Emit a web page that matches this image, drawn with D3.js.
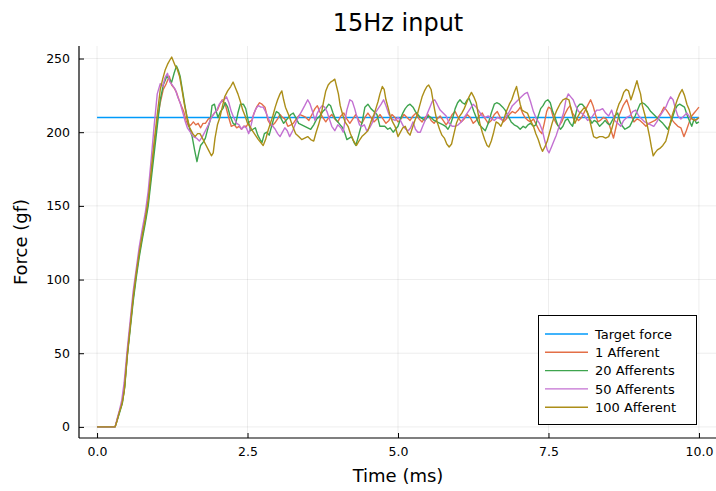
<!DOCTYPE html>
<html><head><meta charset="utf-8">
<script src="https://cdn.jsdelivr.net/npm/d3@7/dist/d3.min.js"></script>
<style>body{margin:0;background:#fff;font-family:"DejaVu Sans",sans-serif;}</style>
</head><body><svg id="c" width="716" height="491"></svg>
<script>
const title = "15Hz input";
const xLabel = "Time (ms)";
const yLabel = "Force (gf)";
const xTicks = [0, 2.5, 5, 7.5, 10];
const xTickLabels = ["0.0", "2.5", "5.0", "7.5", "10.0"];
const yTicks = [0, 50, 100, 150, 200, 250];
const seriesNames = ["Target force", "1 Afferent", "20 Afferents", "50 Afferents", "100 Afferent"];
const seriesColors = ["#009AFA", "#E36F47", "#3EA44E", "#C371D2", "#AC8E18"];

const targetForce = [[0,210],[10,210]];
const afferent1 = [[0,0],[0.3,0],[0.33,4],[0.37,10],[0.42,17],[0.46,28],[0.5,48],[0.55,68],[0.6,87],[0.65,103],[0.7,117],[0.75,129],[0.8,140],[0.85,153],[0.9,172],[0.95,191],[1.0,208],[1.05,220],[1.1,229],[1.15,233],[1.2,238],[1.24,232],[1.28,230],[1.32,227],[1.36,222],[1.4,218],[1.44,214],[1.48,208],[1.52,204],[1.56,205],[1.6,207],[1.64,205],[1.68,206],[1.72,203],[1.76,206],[1.8,206],[1.85,209],[1.9,210],[1.95,213],[2.0,215],[2.04,219],[2.08,222],[2.13,219],[2.18,211],[2.23,204],[2.28,205],[2.32,203],[2.36,204],[2.4,202],[2.44,204],[2.48,204],[2.53,207],[2.57,208],[2.61,213],[2.65,217],[2.7,220],[2.74,219],[2.79,217],[2.84,208],[2.9,204],[2.95,206],[3.0,209],[3.04,212],[3.08,210],[3.12,209],[3.17,204],[3.22,205],[3.26,206],[3.31,209],[3.37,212],[3.42,211],[3.47,210],[3.52,208],[3.57,212],[3.62,216],[3.66,218],[3.7,214],[3.75,210],[3.8,207],[3.85,210],[3.9,212],[3.95,209],[4.0,207],[4.05,211],[4.1,213],[4.15,209],[4.2,206],[4.25,209],[4.3,212],[4.35,208],[4.4,206],[4.45,210],[4.5,213],[4.55,210],[4.6,207],[4.65,209],[4.7,212],[4.75,209],[4.8,206],[4.85,208],[4.9,212],[4.95,210],[5.0,207],[5.05,209],[5.1,212],[5.15,210],[5.2,208],[5.25,211],[5.3,213],[5.35,209],[5.4,207],[5.45,210],[5.5,212],[5.55,208],[5.6,206],[5.65,209],[5.7,211],[5.75,208],[5.8,205],[5.85,208],[5.9,212],[5.95,214],[6.0,210],[6.05,207],[6.1,209],[6.15,212],[6.2,210],[6.25,206],[6.3,208],[6.35,211],[6.4,213],[6.45,209],[6.5,206],[6.55,208],[6.6,212],[6.65,214],[6.7,210],[6.75,207],[6.8,209],[6.85,212],[6.9,214],[6.95,213],[7.0,215],[7.03,217],[7.07,213],[7.11,210],[7.16,208],[7.2,207],[7.25,209],[7.3,205],[7.35,201],[7.39,199],[7.43,206],[7.47,214],[7.5,217],[7.54,216],[7.58,210],[7.63,206],[7.67,204],[7.72,207],[7.77,212],[7.82,216],[7.86,218],[7.9,213],[7.95,210],[8.0,208],[8.05,210],[8.1,214],[8.15,218],[8.2,222],[8.24,218],[8.28,212],[8.32,207],[8.36,208],[8.41,210],[8.46,209],[8.51,205],[8.55,200],[8.58,196],[8.62,203],[8.66,210],[8.7,214],[8.74,218],[8.8,222],[8.84,217],[8.88,211],[8.92,207],[8.97,209],[9.02,208],[9.07,206],[9.12,204],[9.17,206],[9.22,207],[9.27,208],[9.32,210],[9.37,213],[9.42,217],[9.46,215],[9.51,212],[9.56,208],[9.6,206],[9.65,204],[9.7,203],[9.75,197],[9.79,201],[9.84,207],[9.88,211],[9.92,213],[9.96,215],[10.0,217]];
const afferent20 = [[0,0],[0.3,0],[0.33,4],[0.37,9],[0.42,16],[0.46,27],[0.5,47],[0.55,66],[0.6,85],[0.65,101],[0.7,115],[0.75,127],[0.8,138],[0.85,150],[0.9,168],[0.95,186],[1.0,204],[1.05,222],[1.1,232],[1.16,238],[1.2,236],[1.24,234],[1.28,240],[1.32,245],[1.35,242],[1.38,238],[1.42,228],[1.46,218],[1.5,209],[1.54,202],[1.58,197],[1.62,188],[1.66,180],[1.69,186],[1.72,191],[1.76,193],[1.8,196],[1.85,204],[1.88,208],[1.91,218],[1.95,219],[1.98,214],[2.01,210],[2.05,214],[2.09,216],[2.13,220],[2.17,217],[2.21,211],[2.26,206],[2.3,205],[2.34,213],[2.38,219],[2.43,219],[2.47,216],[2.51,208],[2.55,201],[2.59,202],[2.63,203],[2.67,198],[2.71,195],[2.74,193],[2.78,199],[2.82,200],[2.86,198],[2.9,204],[2.94,210],[2.98,214],[3.02,213],[3.06,209],[3.1,206],[3.14,208],[3.18,210],[3.22,212],[3.26,213],[3.3,210],[3.35,206],[3.4,205],[3.45,204],[3.5,203],[3.55,202],[3.6,205],[3.65,209],[3.7,211],[3.75,214],[3.8,216],[3.85,219],[3.88,218],[3.92,213],[3.96,209],[4.0,207],[4.04,205],[4.08,203],[4.12,199],[4.15,195],[4.19,196],[4.23,197],[4.27,193],[4.3,191],[4.34,197],[4.38,203],[4.41,208],[4.45,217],[4.5,219],[4.55,216],[4.6,214],[4.65,212],[4.7,204],[4.74,204],[4.78,204],[4.83,202],[4.87,203],[4.92,200],[4.96,202],[5.0,204],[5.04,209],[5.08,213],[5.12,216],[5.16,218],[5.2,219],[5.25,217],[5.29,214],[5.33,212],[5.37,210],[5.41,209],[5.45,208],[5.5,211],[5.55,210],[5.6,208],[5.65,207],[5.7,206],[5.75,205],[5.79,204],[5.83,202],[5.87,205],[5.91,210],[5.95,216],[5.99,220],[6.03,222],[6.07,220],[6.11,219],[6.15,222],[6.18,223],[6.22,219],[6.26,214],[6.3,210],[6.35,205],[6.4,203],[6.45,201],[6.5,206],[6.55,213],[6.6,219],[6.64,220],[6.69,219],[6.74,217],[6.78,215],[6.83,211],[6.88,207],[6.93,205],[6.98,204],[7.03,202],[7.08,204],[7.12,203],[7.16,205],[7.2,206],[7.25,204],[7.29,205],[7.33,211],[7.37,216],[7.41,218],[7.45,221],[7.49,222],[7.53,220],[7.57,214],[7.61,210],[7.65,205],[7.7,202],[7.74,204],[7.78,208],[7.82,209],[7.86,206],[7.9,204],[7.94,210],[7.98,217],[8.02,219],[8.06,219],[8.1,217],[8.14,214],[8.18,210],[8.22,206],[8.26,208],[8.3,207],[8.35,204],[8.4,206],[8.44,208],[8.48,206],[8.52,205],[8.56,208],[8.6,211],[8.65,213],[8.69,207],[8.73,204],[8.77,202],[8.81,203],[8.85,204],[8.9,208],[8.94,211],[8.98,215],[9.02,219],[9.06,220],[9.1,219],[9.15,217],[9.2,214],[9.25,212],[9.3,210],[9.35,208],[9.4,206],[9.44,204],[9.48,202],[9.52,205],[9.56,210],[9.6,215],[9.64,218],[9.68,219],[9.72,218],[9.76,217],[9.8,212],[9.84,208],[9.88,204],[9.92,209],[9.96,206],[10.0,207]];
const afferent50 = [[0,0],[0.3,0],[0.33,5],[0.37,11],[0.41,18],[0.45,30],[0.5,52],[0.55,72],[0.6,92],[0.65,107],[0.7,122],[0.75,134],[0.8,145],[0.85,160],[0.9,182],[0.95,205],[1.0,226],[1.05,233],[1.09,231],[1.13,237],[1.17,240],[1.21,234],[1.25,232],[1.3,229],[1.34,224],[1.38,220],[1.42,214],[1.46,208],[1.5,203],[1.55,200],[1.6,197],[1.65,196],[1.7,194],[1.75,197],[1.8,201],[1.85,205],[1.9,210],[1.95,213],[1.99,215],[2.03,219],[2.07,221],[2.11,222],[2.15,224],[2.19,220],[2.23,214],[2.27,210],[2.32,206],[2.36,205],[2.4,202],[2.44,204],[2.48,203],[2.52,199],[2.56,205],[2.6,212],[2.64,216],[2.68,218],[2.72,217],[2.76,217],[2.8,214],[2.84,210],[2.88,206],[2.92,204],[2.96,202],[3.0,199],[3.04,197],[3.08,200],[3.12,203],[3.16,201],[3.2,197],[3.25,201],[3.29,205],[3.33,209],[3.37,212],[3.41,215],[3.45,218],[3.5,222],[3.54,219],[3.58,214],[3.62,208],[3.66,213],[3.7,216],[3.74,218],[3.78,217],[3.82,214],[3.86,209],[3.9,204],[3.95,201],[4.0,205],[4.05,203],[4.09,200],[4.12,208],[4.15,215],[4.2,222],[4.24,221],[4.28,216],[4.32,210],[4.36,205],[4.4,204],[4.44,205],[4.48,201],[4.53,203],[4.58,207],[4.62,213],[4.67,216],[4.72,219],[4.76,222],[4.8,218],[4.85,212],[4.9,209],[4.95,208],[5.0,210],[5.04,208],[5.09,204],[5.13,202],[5.17,201],[5.21,203],[5.25,207],[5.29,202],[5.33,200],[5.37,200],[5.41,204],[5.45,208],[5.49,213],[5.53,217],[5.57,221],[5.61,222],[5.65,219],[5.7,215],[5.75,213],[5.8,211],[5.85,206],[5.9,204],[5.95,204],[6.0,205],[6.05,207],[6.1,210],[6.15,213],[6.2,216],[6.25,219],[6.3,217],[6.35,214],[6.4,211],[6.45,210],[6.5,211],[6.55,209],[6.6,208],[6.65,210],[6.7,209],[6.75,208],[6.8,211],[6.85,214],[6.9,218],[6.95,220],[7.0,222],[7.05,224],[7.1,226],[7.15,227],[7.2,221],[7.25,214],[7.3,209],[7.35,206],[7.4,201],[7.44,194],[7.48,188],[7.51,186],[7.55,190],[7.59,194],[7.63,198],[7.67,203],[7.71,208],[7.75,213],[7.79,222],[7.83,226],[7.87,224],[7.91,222],[7.95,218],[8.0,214],[8.05,213],[8.1,211],[8.15,208],[8.2,209],[8.25,212],[8.3,215],[8.35,215],[8.4,216],[8.45,213],[8.5,211],[8.55,215],[8.6,208],[8.65,206],[8.7,204],[8.75,208],[8.8,210],[8.85,211],[8.9,214],[8.95,215],[9.0,211],[9.05,209],[9.1,207],[9.15,206],[9.2,205],[9.25,204],[9.3,207],[9.35,211],[9.4,214],[9.45,217],[9.49,221],[9.53,224],[9.57,222],[9.61,216],[9.65,211],[9.7,209],[9.75,211],[9.8,213],[9.85,210],[9.9,209],[9.95,208],[10.0,210]];
const afferent100 = [[0,0],[0.3,0],[0.33,4],[0.37,10],[0.41,15],[0.45,24],[0.5,48],[0.55,68],[0.6,88],[0.65,104],[0.7,118],[0.75,130],[0.8,141],[0.85,154],[0.9,174],[0.95,194],[1.0,212],[1.05,229],[1.09,236],[1.13,242],[1.17,246],[1.21,249],[1.24,251],[1.27,248],[1.3,245],[1.33,243],[1.37,238],[1.41,229],[1.45,219],[1.49,211],[1.54,203],[1.59,199],[1.63,197],[1.67,199],[1.71,199],[1.75,196],[1.8,192],[1.85,188],[1.9,184],[1.93,186],[1.96,196],[2.0,205],[2.04,210],[2.08,217],[2.12,224],[2.17,228],[2.22,231],[2.26,234],[2.3,230],[2.34,226],[2.38,221],[2.42,215],[2.46,211],[2.5,206],[2.54,204],[2.58,201],[2.63,198],[2.68,195],[2.72,193],[2.76,191],[2.8,195],[2.84,201],[2.88,206],[2.92,211],[2.96,217],[3.0,222],[3.04,226],[3.07,228],[3.1,222],[3.13,217],[3.17,213],[3.2,210],[3.25,204],[3.3,199],[3.35,197],[3.4,195],[3.45,196],[3.5,197],[3.55,195],[3.6,194],[3.64,200],[3.68,205],[3.72,211],[3.76,220],[3.8,228],[3.84,232],[3.88,234],[3.92,235],[3.95,236],[3.98,231],[4.01,226],[4.04,218],[4.08,212],[4.12,207],[4.17,204],[4.21,199],[4.25,195],[4.28,193],[4.31,191],[4.35,194],[4.4,197],[4.45,199],[4.5,201],[4.55,207],[4.6,212],[4.64,217],[4.67,221],[4.7,226],[4.74,231],[4.77,229],[4.8,222],[4.84,216],[4.87,211],[4.91,207],[4.95,204],[4.98,200],[5.0,197],[5.04,200],[5.08,203],[5.12,204],[5.16,200],[5.2,198],[5.24,203],[5.28,208],[5.32,212],[5.36,218],[5.4,224],[5.44,228],[5.48,231],[5.51,232],[5.55,229],[5.58,222],[5.61,215],[5.65,207],[5.69,202],[5.73,198],[5.77,196],[5.81,192],[5.85,190],[5.89,192],[5.93,199],[5.97,206],[6.01,210],[6.06,213],[6.1,216],[6.14,220],[6.18,224],[6.22,227],[6.26,224],[6.3,220],[6.33,213],[6.36,206],[6.4,200],[6.44,195],[6.48,191],[6.51,190],[6.55,194],[6.59,200],[6.63,207],[6.67,206],[6.71,204],[6.75,208],[6.8,214],[6.85,219],[6.89,222],[6.93,227],[6.97,231],[7.0,225],[7.03,219],[7.06,215],[7.1,214],[7.15,213],[7.2,208],[7.25,204],[7.29,199],[7.33,195],[7.37,190],[7.4,187],[7.44,190],[7.48,194],[7.52,200],[7.56,206],[7.6,211],[7.64,215],[7.69,219],[7.74,222],[7.79,223],[7.84,222],[7.88,215],[7.91,210],[7.94,206],[7.98,210],[8.02,213],[8.06,215],[8.1,217],[8.14,214],[8.18,209],[8.22,202],[8.25,197],[8.3,196],[8.35,197],[8.4,197],[8.45,196],[8.5,197],[8.55,202],[8.59,208],[8.63,214],[8.67,219],[8.71,222],[8.75,227],[8.79,229],[8.83,228],[8.87,222],[8.91,227],[8.94,231],[8.97,235],[9.0,230],[9.03,226],[9.06,218],[9.1,212],[9.14,205],[9.18,197],[9.21,190],[9.24,184],[9.27,186],[9.31,188],[9.35,189],[9.4,191],[9.45,194],[9.49,200],[9.52,206],[9.56,212],[9.6,217],[9.64,222],[9.68,226],[9.72,229],[9.76,225],[9.8,219],[9.84,215],[9.88,209],[9.93,208],[9.97,209],[10.0,210]];

const seriesData = [targetForce, afferent1, afferent20, afferent50, afferent100];

const svg = d3.select("#c");
const L = 79, R = 717, T = 46, B = 438;
const x = d3.scaleLinear().domain([-0.3, 10.3]).range([L, R]);
const y = d3.scaleLinear().domain([-7.53, 258.5]).range([B, T]);

// grid
const g = svg.append("g");
g.selectAll(".gx").data(xTicks).join("line")
  .attr("x1", d => x(d)).attr("x2", d => x(d)).attr("y1", T).attr("y2", B)
  .attr("stroke", "#000").attr("stroke-opacity", 0.1).attr("stroke-width", 0.7);
g.selectAll(".gy").data(yTicks).join("line")
  .attr("x1", L).attr("x2", R).attr("y1", d => y(d)).attr("y2", d => y(d))
  .attr("stroke", "#000").attr("stroke-opacity", 0.1).attr("stroke-width", 0.7);

// lines
const line = d3.line().x(d => x(d[0])).y(d => y(d[1]));
seriesData.forEach((s, i) => {
  svg.append("path").datum(s).attr("d", line).attr("fill", "none")
    .attr("stroke", seriesColors[i]).attr("stroke-width", 1.4).attr("stroke-linejoin", "round");
});

// axes
const xAxis = d3.axisBottom(x).tickValues(xTicks).tickSize(-5).tickPadding(9)
  .tickFormat((d, i) => xTickLabels[i]);
const yAxis = d3.axisLeft(y).tickValues(yTicks).tickSize(-5).tickPadding(9);
const ax = svg.append("g").attr("transform", `translate(0,${B})`).call(xAxis);
const ay = svg.append("g").attr("transform", `translate(${L},0)`).call(yAxis);
[ax, ay].forEach(a => {
  a.select(".domain").attr("stroke", "#000").attr("stroke-width", 1.2);
  a.selectAll(".tick line").attr("stroke", "#000").attr("stroke-width", 1);
  a.selectAll(".tick text").attr("font-family", "DejaVu Sans, sans-serif").attr("font-size", 12.5).attr("fill", "#000");
});
ax.select(".domain").attr("d", `M${L},0H${R}`);
ay.select(".domain").attr("d", `M0,${B}V${T}`);

// labels
svg.append("text").attr("x", (L + R) / 2).attr("y", 31).attr("text-anchor", "middle")
  .attr("font-size", 24).attr("fill", "#000").text(title);
svg.append("text").attr("x", (L + R) / 2).attr("y", 482).attr("text-anchor", "middle")
  .attr("font-size", 18).attr("fill", "#000").text(xLabel);
svg.append("text").attr("transform", `translate(27,${(T + B) / 2}) rotate(-90)`).attr("text-anchor", "middle")
  .attr("font-size", 18).attr("fill", "#000").text(yLabel);

// legend
const lg = svg.append("g");
lg.append("rect").attr("x", 538.5).attr("y", 315.5).attr("width", 158).attr("height", 109)
  .attr("fill", "#fff").attr("stroke", "#000").attr("stroke-width", 1);
seriesNames.forEach((n, i) => {
  const yy = 334 + i * 18.3;
  lg.append("line").attr("x1", 545).attr("x2", 588).attr("y1", yy).attr("y2", yy)
    .attr("stroke", seriesColors[i]).attr("stroke-width", 1.4);
  lg.append("text").attr("x", 595).attr("y", yy + 4.7).attr("font-size", 13).attr("fill", "#000").text(n);
});
</script></body></html>
